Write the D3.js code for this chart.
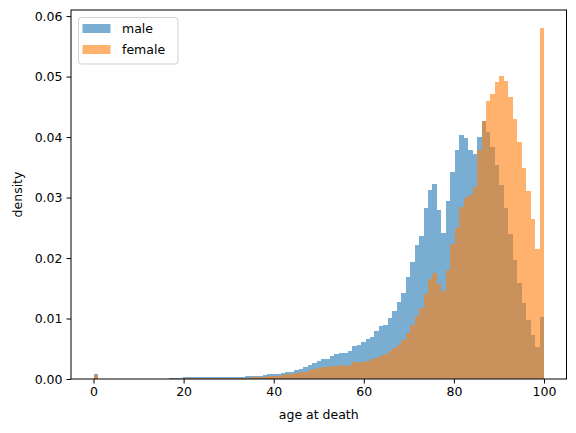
<!DOCTYPE html>
<html>
<head>
<meta charset="utf-8">
<script src="https://cdn.jsdelivr.net/npm/d3@7"></script>
<style>
  body { margin: 0; background: #fff; }
  text { font-family: "DejaVu Sans", sans-serif; }
</style>
</head>
<body>
<script>
// one bin per age 0..100 (101 bins over [0, 100])
let ages = d3.range(0, 101);

let male = [
    0.00088, 0, 0, 0, 0, 0, 0, 0, 0, 0,
    0, 0, 0, 0, 0, 0, 0, 0.00015, 0.00015, 0.00015,
    0.0003, 0.0003, 0.0003, 0.0003, 0.0003, 0.0003, 0.0003, 0.0003, 0.00033, 0.00033,
    0.00033, 0.00033, 0.00033, 0.00033, 0.0005, 0.0005, 0.0005, 0.0005, 0.00066, 0.00082,
    0.00082, 0.00082, 0.001, 0.00115, 0.00115, 0.00154, 0.0017, 0.002, 0.0023, 0.00264,
    0.00297, 0.00324, 0.00324, 0.00374, 0.00412, 0.00429, 0.00429, 0.00462, 0.00544, 0.0056,
    0.0061, 0.0066, 0.0069, 0.0079, 0.0087, 0.0089, 0.0101, 0.0112, 0.0127, 0.0143,
    0.0168, 0.0193, 0.0221, 0.0236, 0.0282, 0.0312, 0.0323, 0.0280, 0.0242, 0.0295,
    0.0343, 0.0379, 0.0404, 0.0398, 0.0379, 0.0372, 0.0400, 0.0427, 0.0409, 0.0384,
    0.0354, 0.0320, 0.0283, 0.0240, 0.0196, 0.0158, 0.0125, 0.0097, 0.0073, 0.0053,
    0.0103
];

let female = [
    0.00071, 0, 0, 0, 0, 0, 0, 0, 0, 0,
    0, 0, 0, 0, 0, 0, 0, 0, 0, 0,
    0.0002, 0.0002, 0.0002, 0.0002, 0.0002, 0.0002, 0.0002, 0.0002, 0.00022, 0.00022,
    0.00022, 0.00022, 0.00022, 0.00022, 0.00022, 0.0004, 0.0004, 0.0004, 0.0004, 0.00044,
    0.00044, 0.00044, 0.00066, 0.00077, 0.00077, 0.001, 0.0011, 0.0012, 0.00154, 0.00165,
    0.00187, 0.00192, 0.00192, 0.00214, 0.00214, 0.00225, 0.0022, 0.00225, 0.00286, 0.00286,
    0.00286, 0.003, 0.0033, 0.0035, 0.0038, 0.0042, 0.0046, 0.0052, 0.0056, 0.0065,
    0.00753, 0.00885, 0.0104, 0.0117, 0.0141, 0.0166, 0.0176, 0.0157, 0.0145, 0.0181,
    0.0223, 0.0250, 0.0285, 0.0299, 0.0305, 0.0318, 0.0378, 0.0427, 0.0460, 0.0472,
    0.0491, 0.0501, 0.0492, 0.0466, 0.0430, 0.0392, 0.0349, 0.0310, 0.0265, 0.0215,
    0.0581
];

let seriesNames = ['male', 'female'];
let xTicks = [0, 20, 40, 60, 80, 100];
let yTicks = [0, 0.01, 0.02, 0.03, 0.04, 0.05, 0.06];

let width = 576;
let height = 433;
let margin = { left: 71, right: 9.5, top: 10, bottom: 54 };
let colors = ['#1f77b4', '#ff7f0e'];
let binWidth = 100 / ages.length;

let svg = d3.select("body").append("svg")
    .attr("width", width)
    .attr("height", height);

let x = d3.scaleLinear()
    .domain([-5, 105])
    .range([margin.left, width - margin.right]);

let yMax = d3.max(female.concat(male)) * 1.05;
let y = d3.scaleLinear()
    .domain([0, yMax])
    .range([height - margin.bottom, margin.top]);

let g = svg.append("g");

// draw male first, then female on top, both at alpha 0.6
[male, female].forEach((values, i) => {
    g.append("g")
        .selectAll("rect")
        .data(ages.filter(a => values[a] > 0))
        .enter()
        .append("rect")
        .attr("x", a => x(a * binWidth))
        .attr("width", a => x((a + 1) * binWidth) - x(a * binWidth))
        .attr("y", a => y(values[a]))
        .attr("height", a => y(0) - y(values[a]))
        .style("fill", colors[i])
        .style("fill-opacity", 0.6)
        .style("shape-rendering", "crispEdges");
});

// axes
let xAxis = d3.axisBottom(x)
    .tickValues(xTicks)
    .tickSizeOuter(0)
    .tickSize(4.5)
    .tickPadding(4);
let yAxis = d3.axisLeft(y)
    .tickValues(yTicks)
    .tickFormat(d3.format(".2f"))
    .tickSizeOuter(0)
    .tickSize(4.5)
    .tickPadding(4);

let gx = svg.append("g")
    .attr("transform", "translate(0," + (height - margin.bottom) + ")")
    .call(xAxis);
let gy = svg.append("g")
    .attr("transform", "translate(" + margin.left + ",0)")
    .call(yAxis);

[gx, gy].forEach(ax => {
    ax.select(".domain").remove();
    ax.selectAll("line").style("stroke", "#000").style("stroke-width", 1);
    ax.selectAll("text")
        .style("font-size", "12.5px")
        .style("fill", "#000");
});

// frame
svg.append("rect")
    .attr("x", margin.left)
    .attr("y", margin.top)
    .attr("width", width - margin.right - margin.left)
    .attr("height", height - margin.bottom - margin.top)
    .style("fill", "none")
    .style("stroke", "#000")
    .style("stroke-width", 1);

// labels
svg.append("text")
    .attr("x", (margin.left + width - margin.right) / 2)
    .attr("y", 419)
    .attr("text-anchor", "middle")
    .style("font-size", "12.5px")
    .text("age at death");

svg.append("text")
    .attr("transform", "translate(22," + (margin.top + height - margin.bottom) / 2 + ")rotate(-90)")
    .attr("text-anchor", "middle")
    .style("font-size", "12.5px")
    .text("density");

// legend
let legend = svg.append("g").attr("transform", "translate(78.5,17.5)");
legend.append("rect")
    .attr("width", 99.5)
    .attr("height", 46.5)
    .attr("rx", 3)
    .style("fill", "#fff")
    .style("fill-opacity", 0.8)
    .style("stroke", "#d0d0d0")
    .style("stroke-width", 1);

seriesNames.forEach((name, i) => {
    legend.append("rect")
        .attr("x", 4)
        .attr("y", 6.5 + i * 21)
        .attr("width", 28)
        .attr("height", 9)
        .style("fill", colors[i])
        .style("fill-opacity", 0.6);
    legend.append("text")
        .attr("x", 43.5)
        .attr("y", 15.5 + i * 21)
        .style("font-size", "12.5px")
        .text(name);
});
</script>
</body>
</html>
